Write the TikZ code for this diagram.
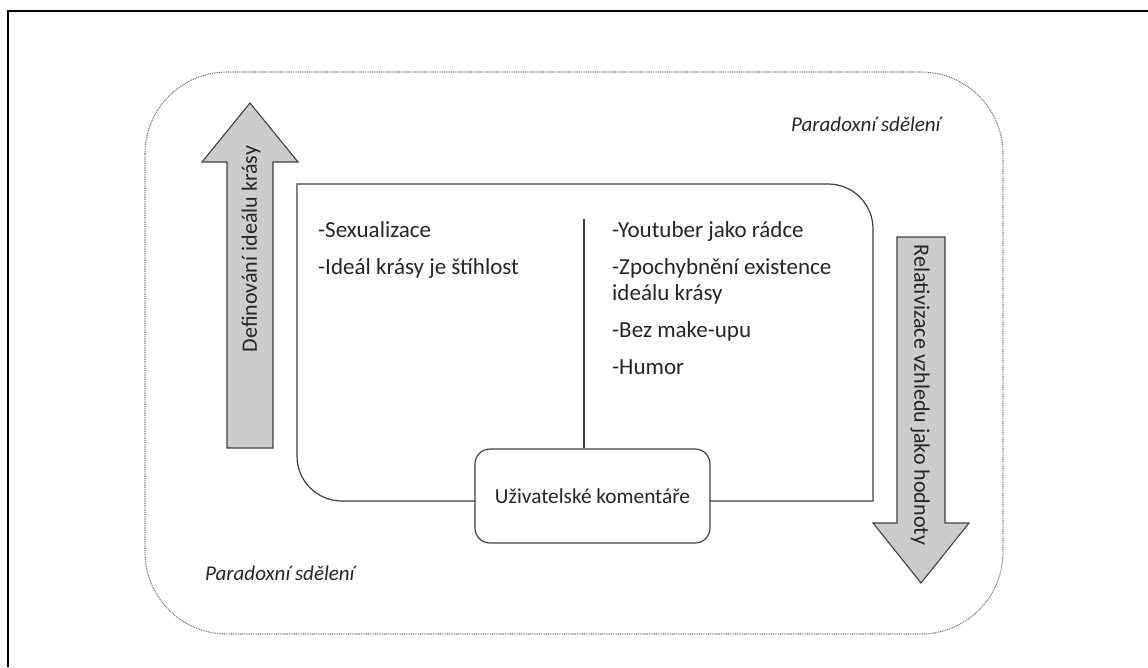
\documentclass[tikz,border=0pt]{standalone}
\usepackage{fontspec}
\setmainfont{Carlito}
\newcommand\itemfont{\fontsize{23pt}{27pt}\selectfont}
\newcommand\arrowfont{\fontsize{22pt}{26pt}\selectfont}
\newcommand\boxfont{\fontsize{21.3pt}{25pt}\selectfont}
\newcommand\capfont{\fontsize{21pt}{25pt}\selectfont\itshape}
\begin{document}
\begin{tikzpicture}[x=1pt,y=-1pt,
  txt/.style={inner sep=0pt, text=black!85, font=\itemfont},
  itemtxt/.style={txt, anchor=base west},
  arrowtxt/.style={txt, font=\arrowfont},
  bigarrow/.style={fill=black!20, draw=black!75, line width=1.1pt, line join=miter},
  innerline/.style={draw=black!75, line width=1.2pt},
  dotframe/.style={draw=black!55, line width=1.1pt, dash pattern=on 0.9pt off 0.9pt, rounded corners=82pt},
  paradox/.style={txt, anchor=base west, font=\capfont}]
\useasboundingbox (0,0) rectangle (1148,667);

% page frame (top and left edges)
\draw[line width=2.5pt, black] (8,667) -- (8,11) -- (1148,11);

% dotted outer region
\draw[dotframe] (145,72) rectangle (1003,634);

% upward arrow on the left
\draw[bigarrow] (227,448) -- (227,162) -- (202,162) -- (250,103) -- (298,162) -- (273,162) -- (273,448) -- cycle;
\node[arrowtxt, rotate=90] (define) at (251,249) {Definování ideálu krásy};

% downward arrow on the right
\draw[bigarrow] (897,237) -- (945,237) -- (945,523) -- (969,523) -- (921,583) -- (873,523) -- (897,523) -- cycle;
\node[arrowtxt, rotate=-90] (relativize) at (920,395) {Relativizace vzhledu jako hodnoty};

% inner panel with two rounded corners
\draw[innerline] (297,184) -- (828,184) .. controls (853,184) and (873,204) .. (873,229)
  -- (873,501) -- (342,501) .. controls (317,501) and (297,481) .. (297,456) -- cycle;

% central node
\node[draw=black!75, line width=1.2pt, fill=white, rounded corners=15pt,
      minimum width=235pt, minimum height=94pt, inner sep=0pt,
      text=black!85, font=\boxfont] (uk) at (592.5,496) {Uživatelské komentáře};

% column divider
\coordinate (divtop) at (584,219);
\draw[innerline] (divtop) -- (divtop |- uk.north);

% left column
\node[itemtxt] (l1) at (318,237) {-Sexualizace};
\node[itemtxt] (l2) at (318,274) {-Ideál krásy je štíhlost};

% right column
\node[itemtxt] (r1) at (612,237) {-Youtuber jako rádce};
\node[itemtxt] (r2) at (612,274) {-Zpochybnění existence};
\node[itemtxt] (r2b) at (612,300) {ideálu krásy};
\node[itemtxt] (r3) at (612,337) {-Bez make-upu};
\node[itemtxt] (r4) at (612,374) {-Humor};

% italic captions
\node[paradox] (p1) at (791,131) {Paradoxní sdělení};
\node[paradox] (p2) at (205,580) {Paradoxní sdělení};
\end{tikzpicture}
\end{document}
